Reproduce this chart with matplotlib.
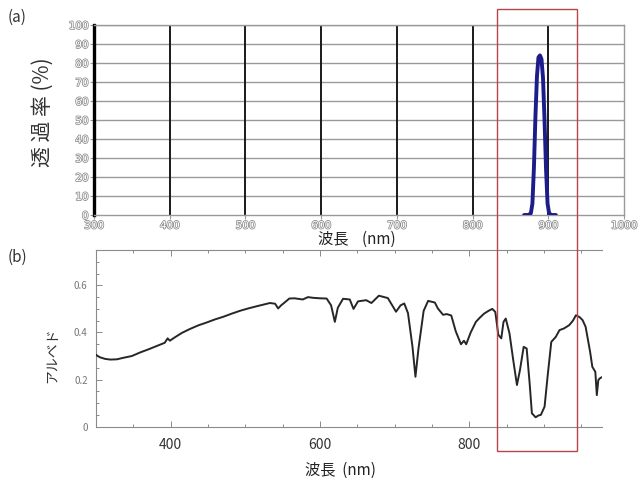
import matplotlib
matplotlib.use("Agg")
import matplotlib.pyplot as plt
import matplotlib.patheffects as pe
from matplotlib.patches import Rectangle
from matplotlib.ticker import MultipleLocator

plt.rcParams['font.family'] = ['Noto Sans CJK JP', 'DejaVu Sans']

# (a) filter transmission
trans_wl = [868, 874, 877, 879, 881, 883, 885, 887, 889, 891, 893, 895, 897, 899, 901, 904, 910]
trans_pct = [0, 0, 1, 6, 25, 52, 73, 83, 84, 82, 72, 50, 24, 6, 1, 0, 0]
trans_xticks = [300, 400, 500, 600, 700, 800, 900, 1000]
trans_yticks = [0, 10, 20, 30, 40, 50, 60, 70, 80, 90, 100]

# (b) albedo spectrum
alb_wl = [300, 305, 312, 319, 328, 336, 348, 359, 370, 381, 392, 396, 399, 405, 415, 426,
          437, 448, 459, 470, 482, 493, 504, 515, 524, 533, 540, 544, 548, 553, 559, 566,
          577, 584, 591, 600, 609, 615, 620, 624, 631, 640, 645, 651, 662, 669, 679, 691,
          702, 708, 713, 718, 724, 728, 732, 739, 745, 754, 758, 765, 770, 776, 782, 789,
          793, 796, 802, 809, 814, 820, 826, 831, 835, 839, 843, 846, 849, 854, 859, 864,
          868, 873, 877, 881, 884, 889, 893, 896, 901, 905, 910, 916, 921, 927, 934, 939,
          943, 948, 952, 956, 962, 965, 969, 971, 973, 975, 977]
alb_val = [0.305, 0.295, 0.288, 0.285, 0.286, 0.292, 0.300, 0.315, 0.328, 0.342, 0.356, 0.375, 0.365, 0.378, 0.398, 0.415,
           0.430, 0.442, 0.455, 0.466, 0.480, 0.492, 0.502, 0.511, 0.518, 0.525, 0.522, 0.502, 0.515, 0.528, 0.544, 0.545,
           0.540, 0.550, 0.547, 0.545, 0.544, 0.515, 0.445, 0.505, 0.543, 0.540, 0.500, 0.532, 0.537, 0.525, 0.556, 0.546,
           0.488, 0.515, 0.523, 0.482, 0.340, 0.212, 0.330, 0.492, 0.534, 0.527, 0.502, 0.475, 0.478, 0.472, 0.405, 0.350,
           0.365, 0.350, 0.400, 0.445, 0.462, 0.480, 0.492, 0.500, 0.487, 0.390, 0.375, 0.445, 0.459, 0.396, 0.283, 0.177,
           0.240, 0.339, 0.332, 0.184, 0.057, 0.040, 0.048, 0.050, 0.085, 0.212, 0.360, 0.381, 0.410, 0.417, 0.431, 0.450,
           0.473, 0.465, 0.452, 0.424, 0.318, 0.254, 0.233, 0.134, 0.198, 0.205, 0.209]
alb_xticks = [400, 600, 800]
alb_yticks = [0, 0.2, 0.4, 0.6]
alb_ylabels = ['0', '0.2', '0.4', '0.6']

fig = plt.figure(figsize=(6.43, 4.86), dpi=100)

# ---- panel (a)
ax1 = fig.add_axes([0.1462, 0.5576, 0.8243, 0.391])
ax1.set_xlim(300, 1000)
ax1.set_ylim(0, 100)
for y in trans_yticks[1:]:
    ax1.axhline(y, color='#9a9a9a', lw=1.0, zorder=1)
for x in trans_xticks[1:-1]:
    ax1.axvline(x, color='#1a1a1a', lw=1.4, zorder=1)
ax1.plot(trans_wl, trans_pct, color='#1c1c8a', lw=2.8, solid_capstyle='round', zorder=3)

ax1.spines['left'].set_linewidth(2.4)
ax1.spines['left'].set_color('black')
for s in ['top', 'right', 'bottom']:
    ax1.spines[s].set_color('#9a9a9a')
    ax1.spines[s].set_linewidth(1.0)
ax1.set_xticks(trans_xticks)
ax1.set_yticks(trans_yticks)
ax1.tick_params(axis='both', length=3, width=0.8, color='#9a9a9a', pad=1)
hollow = [pe.withStroke(linewidth=1.1, foreground='#8a8a8a')]
for lab in ax1.get_xticklabels() + ax1.get_yticklabels():
    lab.set_fontsize(7.5)
    lab.set_color('white')
    lab.set_path_effects(hollow)
    lab.set_family('DejaVu Sans')

fig.text(0.066, 0.77, '透 過 率 (%)', rotation=90, fontsize=15, ha='center', va='center', color='#333333')
fig.text(0.555, 0.508, '波長    (nm)', fontsize=11, ha='center', va='center', color='#222222')
fig.text(0.012, 0.965, '(a)', fontsize=11, ha='left', va='center', color='#333333')

# ---- panel (b)
ax2 = fig.add_axes([0.1493, 0.122, 0.787, 0.3636])
ax2.plot(alb_wl, alb_val, color='#262626', lw=1.4, zorder=3)
ax2.set_xlim(300, 978)
ax2.set_ylim(0, 0.75)
ax2.set_xticks(alb_xticks)
ax2.set_yticks(alb_yticks)
ax2.set_yticklabels(alb_ylabels)
ax2.xaxis.set_minor_locator(MultipleLocator(50))
ax2.yaxis.set_minor_locator(MultipleLocator(0.05))
ax2.tick_params(which='both', direction='in', top=True, color='#8a8a8a', width=0.7)
ax2.tick_params(which='major', length=4)
ax2.tick_params(which='minor', length=2.5)
ax2.tick_params(axis='x', labelsize=10, labelcolor='#333333', pad=8)
ax2.tick_params(axis='y', labelsize=7, labelcolor='#777777', pad=6)
ax2.spines['right'].set_visible(False)
for s in ['top', 'left', 'bottom']:
    ax2.spines[s].set_color('#8a8a8a')
    ax2.spines[s].set_linewidth(0.8)

fig.text(0.082, 0.27, 'アルベド', rotation=90, fontsize=10, ha='center', va='center', color='#333333')
fig.text(0.53, 0.033, '波長  (nm)', fontsize=11, ha='center', va='center', color='#222222')
fig.text(0.012, 0.47, '(b)', fontsize=11, ha='left', va='center', color='#333333')

# red highlight box spanning both panels
fig.patches.append(Rectangle((0.773, 0.072), 0.1244, 0.9095, transform=fig.transFigure,
                             fill=False, edgecolor='#b5474a', lw=1.0, zorder=10))

fig.savefig('out.png', dpi=100)
